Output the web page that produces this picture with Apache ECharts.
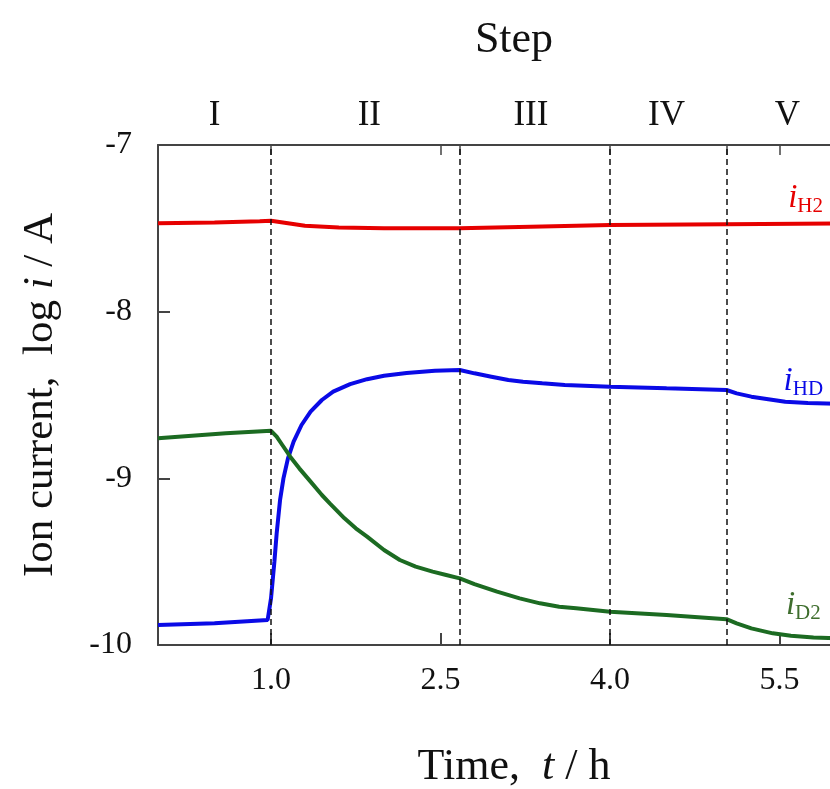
<!DOCTYPE html>
<html>
<head>
<meta charset="utf-8">
<script src="https://cdn.jsdelivr.net/npm/echarts@6/dist/echarts.min.js"></script>
<style>
  html, body { margin: 0; padding: 0; background: #fff; overflow: hidden; }
  /* the plot runs past the right edge of the picture, as in the original */
  #main { width: 870px; height: 789px; }
</style>
</head>
<body>
<div id="main"></div>
<script>
// values (time in h, log current in A)
const timeH2 = [0, 0.5, 0.9, 1.0, 1.15, 1.3, 1.6, 2.0, 2.67, 3.3, 4.0, 5.03, 6.3];
const valH2 = [-7.47, -7.465, -7.458, -7.455, -7.47, -7.485, -7.495, -7.5, -7.5, -7.49, -7.48, -7.475, -7.47];

const timeHD = [0, 0.5, 0.97, 1.0, 1.03, 1.05, 1.08, 1.11, 1.15, 1.2, 1.27, 1.35, 1.45, 1.55, 1.7, 1.85, 2.0, 2.2, 2.45, 2.67,
  2.8, 2.95, 3.1, 3.23, 3.4, 3.6, 4.0, 4.5, 5.03, 5.12, 5.25, 5.4, 5.55, 5.75, 6.0, 6.3];
const valHD = [-9.88, -9.87, -9.85, -9.72, -9.5, -9.33, -9.13, -9.0, -8.88, -8.78, -8.68, -8.6, -8.53, -8.48, -8.435, -8.405, -8.385, -8.368, -8.355, -8.35,
  -8.37, -8.39, -8.41, -8.42, -8.43, -8.44, -8.45, -8.46, -8.47, -8.49, -8.51, -8.525, -8.54, -8.548, -8.552, -8.555];

const timeD2 = [0, 0.3, 0.6, 1.0, 1.05, 1.1, 1.17, 1.25, 1.35, 1.45, 1.52, 1.65, 1.75, 1.85, 2.0, 2.14, 2.28, 2.43, 2.55, 2.67,
  2.8, 3.0, 3.2, 3.38, 3.55, 3.7, 3.85, 4.0, 4.5, 5.03, 5.12, 5.25, 5.44, 5.6, 5.8, 6.0, 6.3];
const valD2 = [-8.76, -8.745, -8.73, -8.715, -8.75, -8.8, -8.87, -8.94, -9.02, -9.1, -9.15, -9.24, -9.3, -9.35, -9.43, -9.49, -9.53, -9.56, -9.58, -9.6,
  -9.635, -9.68, -9.72, -9.75, -9.77, -9.78, -9.79, -9.8, -9.82, -9.845, -9.87, -9.9, -9.93, -9.945, -9.955, -9.96, -9.965];

const xTicks = [1.0, 2.5, 4.0, 5.5];
const yTicks = [-7, -8, -9, -10];
const stepBounds = [1.0, 2.67, 4.0, 5.03];
const stepCenters = [0.5, 1.87, 3.3, 4.5, 5.57];
const stepNames = ['I', 'II', 'III', 'IV', 'V'];

const font = 'Liberation Serif';
const axisColor = '#444';

function pairs(ts, vs) {
  return ts.map((t, i) => [t, vs[i]]);
}

function curveLabel(coord, sub, color) {
  return {
    coord: coord,
    symbol: 'circle',
    symbolSize: 1,
    itemStyle: { color: 'rgba(0,0,0,0)' },
    label: {
      show: true,
      position: 'inside',
      formatter: '{i|i}{s|' + sub + '}',
      rich: {
        i: { fontFamily: font, fontStyle: 'italic', fontSize: 33, color: color },
        s: { fontFamily: font, fontSize: 21, color: color, padding: [16, 0, 0, 0] }
      }
    }
  };
}

const chart = echarts.init(document.getElementById('main'));

const option = {
  animation: false,
  backgroundColor: '#fff',
  grid: { left: 158, right: 0, top: 145, bottom: 144, outerBoundsMode: 'none' },
  xAxis: [
    {
      type: 'value',
      position: 'bottom',
      min: 0,
      max: 6.3,
      name: '{a|Time,  }{b|t}{a| / h}',
      nameLocation: 'middle',
      nameGap: 100,
      nameTextStyle: {
        rich: {
          a: { fontFamily: font, fontSize: 44, color: '#111' },
          b: { fontFamily: font, fontSize: 44, fontStyle: 'italic', color: '#111' }
        }
      },
      splitLine: { show: false },
      axisLine: { show: true, onZero: false, lineStyle: { color: axisColor, width: 2 } },
      axisTick: { show: true, inside: true, length: 12, customValues: xTicks, lineStyle: { color: axisColor, width: 2 } },
      axisLabel: {
        customValues: xTicks,
        formatter: v => v.toFixed(1),
        fontFamily: font, fontSize: 32, color: '#111', margin: 20
      }
    },
    {
      type: 'value',
      position: 'top',
      min: 0,
      max: 6.3,
      name: 'Step',
      nameLocation: 'middle',
      nameGap: 83,
      nameTextStyle: { fontFamily: font, fontSize: 44, color: '#111' },
      splitLine: { show: false },
      axisLine: { show: true, onZero: false, lineStyle: { color: axisColor, width: 2 } },
      axisTick: {
        show: true, inside: true, length: 10,
        customValues: xTicks.concat(stepBounds),
        lineStyle: { color: axisColor, width: 1.5 }
      },
      axisLabel: {
        show: true,
        customValues: stepCenters,
        formatter: v => stepNames[stepCenters.indexOf(v)] || '',
        fontFamily: font, fontSize: 35, color: '#111', margin: 12
      }
    }
  ],
  yAxis: {
    type: 'value',
    min: -10,
    max: -7,
    interval: 1,
    name: '{a|Ion current,  log }{b|i}{a| / A}',
    nameLocation: 'middle',
    nameRotate: 90,
    nameGap: 96,
    nameTextStyle: {
      rich: {
        a: { fontFamily: font, fontSize: 43, color: '#111' },
        b: { fontFamily: font, fontSize: 43, fontStyle: 'italic', color: '#111' }
      }
    },
    splitLine: { show: false },
    axisLine: { show: true, lineStyle: { color: axisColor, width: 2 } },
    axisTick: { show: true, inside: true, length: 12, customValues: yTicks, lineStyle: { color: axisColor, width: 2 } },
    axisLabel: { fontFamily: font, fontSize: 32, color: '#111', margin: 26 }
  },
  series: [
    {
      name: 'H2',
      type: 'line',
      data: pairs(timeH2, valH2),
      showSymbol: false,
      lineStyle: { color: '#e60000', width: 4 },
      markLine: {
        silent: true,
        symbol: 'none',
        label: { show: false },
        lineStyle: { color: '#111', type: [6, 4], width: 1.5 },
        data: stepBounds.map(b => ({ xAxis: b }))
      },
      markPoint: { data: [curveLabel([5.73, -7.32], 'H2', '#e60000')] },
      z: 3
    },
    {
      name: 'HD',
      type: 'line',
      data: pairs(timeHD, valHD),
      showSymbol: false,
      lineStyle: { color: '#0a0ae6', width: 4 },
      markPoint: { data: [curveLabel([5.71, -8.42], 'HD', '#0a0ae6')] },
      z: 3
    },
    {
      name: 'D2',
      type: 'line',
      data: pairs(timeD2, valD2),
      showSymbol: false,
      lineStyle: { color: '#1c6b22', width: 4 },
      markPoint: { data: [curveLabel([5.71, -9.76], 'D2', '#3f6e2e')] },
      z: 3
    }
  ]
};

chart.setOption(option);
</script>
</body>
</html>
